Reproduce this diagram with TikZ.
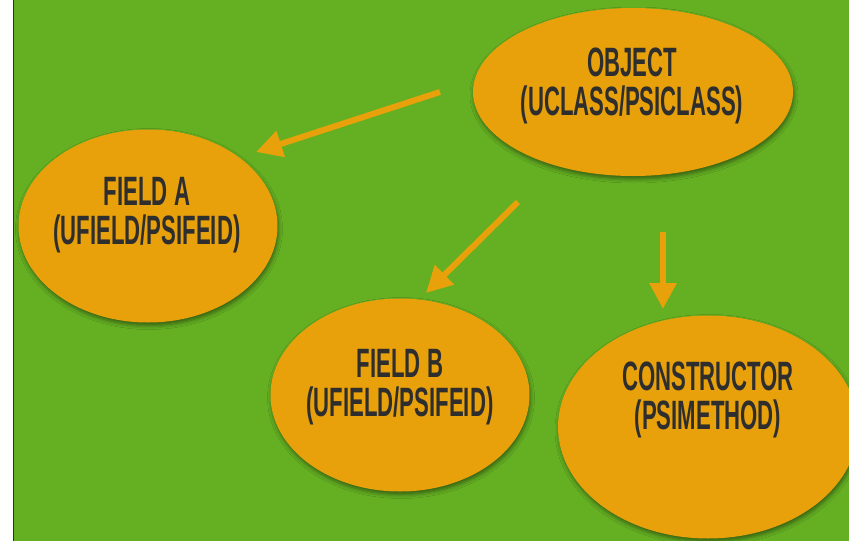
\documentclass[tikz,border=0pt]{standalone}
\usepackage{fontspec}
\setmainfont{Liberation Sans}[FakeStretch=0.54]
\usetikzlibrary{arrows.meta,shapes.geometric,shadows.blur}
\definecolor{bggreen}{HTML}{64AF22}
\definecolor{bubble}{HTML}{E8A10B}
\definecolor{ink}{HTML}{2E2E2E}
\definecolor{edge}{HTML}{27351A}
\tikzset{
  bubblenode/.style={ellipse, fill=bubble, inner sep=0pt,
    blur shadow={shadow xshift=1pt, shadow yshift=-3pt,
      shadow blur radius=4pt, shadow opacity=45}},
  caption/.style={text=ink, align=center, font=\bfseries\fontsize{41}{39}\selectfont},
  link/.style={draw=bubble, line width=6pt,
    -{Triangle[length=26pt,width=26pt]}}
}
\begin{document}
\begin{tikzpicture}[x=1pt,y=-1pt]
  \useasboundingbox (0,0) rectangle (849,541);
  \clip (0,0) rectangle (849,541);
  % page strip and background
  \fill[white] (0,0) rectangle (14,541);
  \fill[bggreen] (14,0) rectangle (849,541);
  \draw[edge, line width=1.5pt] (13.5,0) -- (13.5,541);

  % bubbles
  \node[bubblenode, minimum width=320pt, minimum height=168pt] (obj) at (633,92) {};
  \node[bubblenode, minimum width=259pt, minimum height=193pt] (fa) at (148,226) {};
  \node[bubblenode, minimum width=259pt, minimum height=193pt] (fb) at (400,395) {};
  \node[bubblenode, minimum width=300pt, minimum height=223pt] (ctor) at (708,427) {};

  % captions
  \node[caption] (objtxt) at (632,86) {OBJECT\\(UCLASS/PSICLASS)};
  \node[caption] (fatxt) at (147,215) {FIELD A\\(UFIELD/PSIFEID)};
  \node[caption] (fbtxt) at (400,387) {FIELD B\\(UFIELD/PSIFEID)};
  \node[caption] (ctortxt) at (708,400) {CONSTRUCTOR\\(PSIMETHOD)};

  % arrow ends
  \coordinate (a1) at (440,92);
  \coordinate (a2) at (256,152);
  \coordinate (b1) at (518,202);
  \coordinate (b2) at (426,293);
  \coordinate (c1) at (663,232);
  \coordinate (c2) at (663,309);

  \draw[link] (a1) -- (a2);
  \draw[link] (b1) -- (b2);
  \draw[link] (c1) -- (c2);
\end{tikzpicture}
\end{document}
